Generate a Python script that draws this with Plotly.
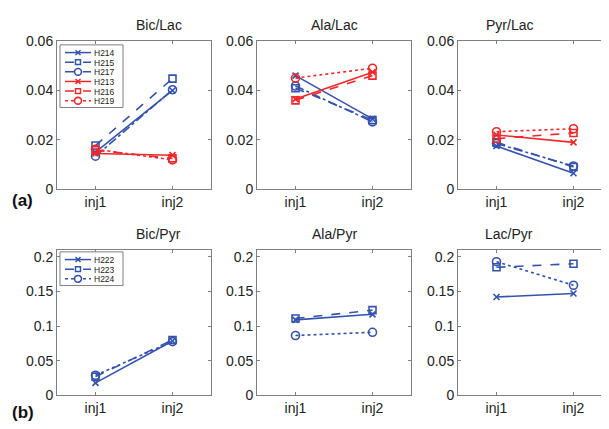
import plotly.graph_objects as go

W, H = 609, 429
x_labels = ["inj1", "inj2"]

# Top row: ratios over Lac
top_titles = ["Bic/Lac", "Ala/Lac", "Pyr/Lac"]
top_series = ["H214", "H215", "H217", "H213", "H216", "H219"]
bic_lac = {"H214": [0.0150, 0.0400], "H215": [0.0177, 0.0448], "H217": [0.0134, 0.0403],
           "H213": [0.0145, 0.0138], "H216": [0.0158, 0.0125], "H219": [0.0162, 0.0119]}
ala_lac = {"H214": [0.0460, 0.0285], "H215": [0.0409, 0.0280], "H217": [0.0418, 0.0273],
           "H213": [0.0365, 0.0474], "H216": [0.0360, 0.0460], "H219": [0.0450, 0.0490]}
pyr_lac = {"H214": [0.0175, 0.0065], "H215": [0.0190, 0.0090], "H217": [0.0185, 0.0094],
           "H213": [0.0220, 0.0190], "H216": [0.0205, 0.0228], "H219": [0.0233, 0.0245]}
top_data = [bic_lac, ala_lac, pyr_lac]

# Bottom row: ratios over Pyr
bot_titles = ["Bic/Pyr", "Ala/Pyr", "Lac/Pyr"]
bot_series = ["H222", "H223", "H224"]
bic_pyr = {"H222": [0.018, 0.0785], "H223": [0.027, 0.0800], "H224": [0.029, 0.0776]}
ala_pyr = {"H222": [0.109, 0.117], "H223": [0.111, 0.123], "H224": [0.0864, 0.091]}
lac_pyr = {"H222": [0.142, 0.147], "H223": [0.185, 0.190], "H224": [0.193, 0.159]}
bot_data = [bic_pyr, ala_pyr, lac_pyr]

BLUE = "#3453ad"
RED = "#f0282a"
style = {
    "H214": (BLUE, "solid", "x-thin-open"), "H215": (BLUE, "dash", "square-open"),
    "H217": (BLUE, "dashdot", "circle-open"), "H213": (RED, "solid", "x-thin-open"),
    "H216": (RED, "dash", "square-open"), "H219": (RED, "dot", "circle-open"),
    "H222": (BLUE, "solid", "x-thin-open"), "H223": (BLUE, "dash", "square-open"),
    "H224": (BLUE, "dot", "circle-open"),
}
msize = {"x-thin-open": 6, "square-open": 7, "circle-open": 8}

fig = go.Figure()
xdom_px = [(49, 203), (249, 403), (450, 604)]
ydom_px = [(26, 180), (243, 394)]

def fx(p): return p / W
def fy(p): return 1 - p / H

FONT = "Liberation Sans, Arial, sans-serif"
AXCOL = "#7f7f7f"

for row, (titles, series, data, yr, tv, tt) in enumerate([
        (top_titles, top_series, top_data, [0, 0.06], [0, 0.02, 0.04, 0.06], ["0", "0.02", "0.04", "0.06"]),
        (bot_titles, bot_series, bot_data, [0, 0.21], [0, 0.05, 0.1, 0.15, 0.2], ["0", "0.05", "0.1", "0.15", "0.2"])]):
    for col in range(3):
        idx = row * 3 + col + 1
        xa = "x" if idx == 1 else f"x{idx}"
        ya = "y" if idx == 1 else f"y{idx}"
        for s in series:
            c, d, m = style[s]
            fig.add_trace(go.Scatter(
                x=x_labels, y=data[col][s], name=s, xaxis=xa, yaxis=ya,
                mode="lines+markers", line=dict(color=c, width=1.6, dash=d),
                marker=dict(symbol=m, size=msize[m], color=c, line=dict(color=c, width=1.6)),
                showlegend=False))
        x0, x1 = xdom_px[col]
        y0, y1 = ydom_px[row]
        axkw = dict(showline=True, linecolor=AXCOL, linewidth=1, mirror="ticks",
                    ticks="inside", ticklen=3, tickcolor=AXCOL, showgrid=False, zeroline=False,
                    tickfont=dict(family=FONT, size=14, color="#222"))
        fig.layout[("xaxis" if idx == 1 else f"xaxis{idx}")] = dict(
            domain=[fx(x0), fx(x1)], anchor=ya, type="category", range=[-0.5, 1.5],
            categoryorder="array", categoryarray=x_labels, **axkw)
        fig.layout[("yaxis" if idx == 1 else f"yaxis{idx}")] = dict(
            domain=[fy(y1), fy(y0)], anchor=xa, range=yr, tickvals=tv, ticktext=tt, **axkw)
        fig.add_annotation(text=titles[col], x=fx((x0 + x1) / 2), y=fy(y0 - 6),
                           xref="paper", yref="paper", showarrow=False, yanchor="bottom",
                           font=dict(family=FONT, size=14, color="#222"))

fig.add_annotation(text="<b>(a)</b>", x=fx(2), y=fy(192), xref="paper", yref="paper",
                   showarrow=False, xanchor="left", yanchor="middle",
                   font=dict(family=FONT, size=17, color="#111"))
fig.add_annotation(text="<b>(b)</b>", x=fx(2), y=fy(412), xref="paper", yref="paper",
                   showarrow=False, xanchor="left", yanchor="middle",
                   font=dict(family=FONT, size=17, color="#111"))


def compact_legend(series, left, top, right, row_h=10):
    """MATLAB-style compact legend box drawn as layout decoration."""
    bottom = top + 5 + row_h * len(series)
    fig.add_shape(type="rect", xref="paper", yref="paper",
                  x0=fx(left), x1=fx(right), y0=fy(bottom), y1=fy(top),
                  line=dict(color=AXCOL, width=1), fillcolor="white", layer="above")
    for i, s in enumerate(series):
        c, d, m = style[s]
        yc = top + 8 + row_h * i
        fig.add_shape(type="line", xref="paper", yref="paper",
                      x0=fx(left + 5), x1=fx(left + 31), y0=fy(yc), y1=fy(yc),
                      line=dict(color=c, width=1.5, dash=d), layer="above")
        mx = left + 18
        r = 3
        if m == "square-open":
            fig.add_shape(type="rect", xref="paper", yref="paper",
                          x0=fx(mx - r + 0.5), x1=fx(mx + r - 0.5), y0=fy(yc + r - 0.5), y1=fy(yc - r + 0.5),
                          line=dict(color=c, width=1.5), fillcolor="white", layer="above")
        elif m == "circle-open":
            fig.add_shape(type="circle", xref="paper", yref="paper",
                          x0=fx(mx - r - 0.5), x1=fx(mx + r + 0.5), y0=fy(yc + r + 0.5), y1=fy(yc - r - 0.5),
                          line=dict(color=c, width=1.6), fillcolor="white", layer="above")
        else:
            for sgn in (1, -1):
                fig.add_shape(type="line", xref="paper", yref="paper",
                              x0=fx(mx - 2.5), x1=fx(mx + 2.5), y0=fy(yc - 2.5 * sgn), y1=fy(yc + 2.5 * sgn),
                              line=dict(color=c, width=1.5), layer="above")
        fig.add_annotation(text=s, x=fx(left + 33), y=fy(yc), xref="paper", yref="paper",
                           showarrow=False, xanchor="left", yanchor="middle",
                           height=9, borderpad=0, valign="middle",
                           font=dict(family=FONT, size=8.5, color="#222"))


compact_legend(top_series, 52, 30, 115)
compact_legend(bot_series, 52, 245, 115)

fig.update_layout(
    width=W, height=H, margin=dict(l=0, r=0, t=0, b=0),
    plot_bgcolor="white", paper_bgcolor="white", showlegend=False,
)

fig.write_html("out.html")
